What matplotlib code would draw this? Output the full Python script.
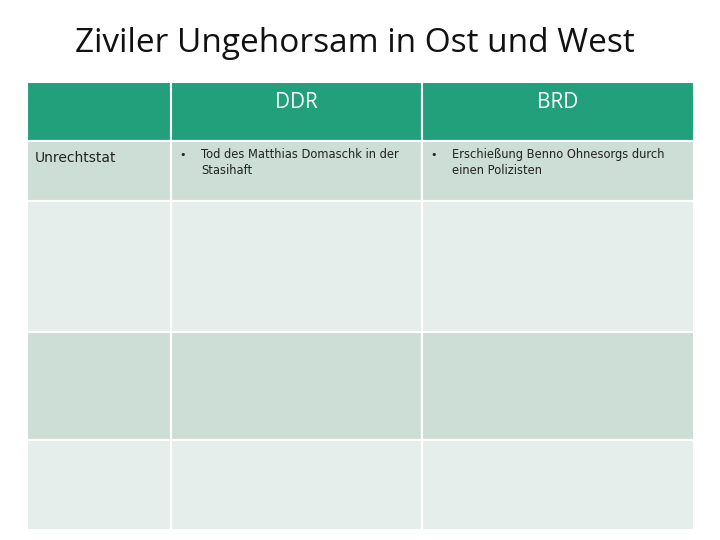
import matplotlib
matplotlib.use("Agg")
import matplotlib.pyplot as plt
from matplotlib.patches import Rectangle

title = "Ziviler Ungehorsam in Ost und West"
headers = ["", "DDR", "BRD"]
row_labels = ["Unrechtstat", "", "", ""]
ddr_cells = ["Tod des Matthias Domaschk in der\nStasihaft", "", "", ""]
brd_cells = ["Erschießung Benno Ohnesorgs durch\neinen Polizisten", "", "", ""]

col_edges = [27, 171, 422, 694]
row_edges = [82, 141, 201, 332, 440, 530]
header_color = "#21A07B"
band_colors = ["#CDDED7", "#E5EEEB", "#CDDED7", "#E5EEEB"]

fig = plt.figure(figsize=(7.2, 5.4), dpi=100)
ax = fig.add_axes([0, 0, 1, 1])
ax.set_xlim(0, 720)
ax.set_ylim(540, 0)
ax.axis("off")

ax.text(355, 44, title, ha="center", va="center", fontsize=24, family="Open Sans", color="#111111")

for j in range(3):
    x0, x1 = col_edges[j], col_edges[j + 1]
    ax.add_patch(Rectangle((x0, row_edges[0]), x1 - x0, row_edges[1] - row_edges[0],
                           facecolor=header_color, edgecolor="white", lw=1.5))
    if headers[j]:
        ax.text((x0 + x1) / 2, 102, headers[j], ha="center", va="center",
                fontsize=15, color="white", family="Open Sans")

for i in range(4):
    y0, y1 = row_edges[i + 1], row_edges[i + 2]
    for j in range(3):
        x0, x1 = col_edges[j], col_edges[j + 1]
        ax.add_patch(Rectangle((x0, y0), x1 - x0, y1 - y0,
                               facecolor=band_colors[i], edgecolor="white", lw=1.5))
    if row_labels[i]:
        ax.text(35, y0 + 17, row_labels[i], ha="left", va="center", fontsize=10, color="#222222")
    for j, cells in ((1, ddr_cells), (2, brd_cells)):
        if cells[i]:
            x0 = col_edges[j]
            ax.text(x0 + 8, y0 + 14, "•", ha="left", va="center", fontsize=8, color="#222222")
            ax.text(x0 + 30, y0 + 7, cells[i], ha="left", va="top", fontsize=8.3,
                    color="#222222", linespacing=1.35)

fig.savefig("out.png", dpi=100)
